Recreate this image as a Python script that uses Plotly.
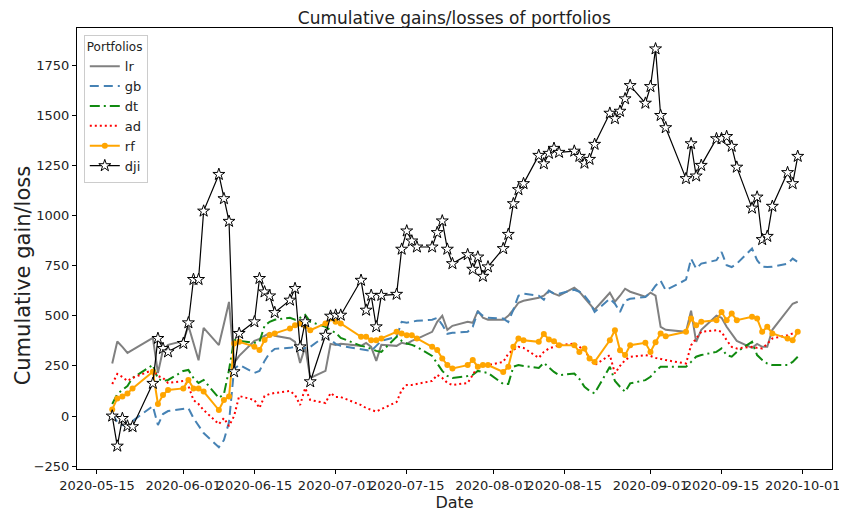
"""Cumulative gains/losses of portfolios, redrawn with plotly"""

import pandas as pd
import plotly.graph_objects as go

# trading days, 2020-05-18 .. 2020-09-30 (US market holidays removed)
dates = pd.bdate_range(
    "2020-05-18", "2020-09-30", freq="C",
    holidays=["2020-05-25", "2020-07-03", "2020-09-07"],
)

# values, month by month (May, Jun, Jul, Aug, Sep)
lr = [262, 372, 345, 315, 330, 390, 215, 330, 355,
      375, 450, 370, 278, 440, 354, 460, 569, 265, 300, 375, 385, 400, 415, 400, 387, 370, 265, 345, 190, 225, 360,
      355, 360, 350, 365, 345, 275, 355, 350, 365, 360, 375, 385, 420, 470, 500, 430, 450, 470, 465, 525, 490, 480,
      480, 500, 530, 565, 575, 590, 600, 625, 610, 600, 640, 620, 590, 560, 530, 615, 570, 600, 635, 620, 595,
      615, 600, 445, 430, 420, 525, 370, 430, 500, 490, 445, 410, 375, 340, 360, 345, 345, 430, 525, 560, 570]
gb = [10, -30, -45, -50, -25, 50, -45, 10, 25,
      35, 40, -10, -50, -85, -155, -120, -30, 235, 255, 215, 225, 275, 315, 335, 340, 345, 330, 340, 345, 400, 380,
      360, 350, 335, 330, 325, 350, 375, 395, 470, 465, 470, 475, 480, 490, 455, 410, 415, 420, 445, 520, 500, 490,
      486, 469, 531, 600, 610, 600, 580, 625, 610, 610, 630, 620, 600, 568, 519, 585, 560, 519, 575, 585, 594,
      615, 650, 675, 627, 680, 785, 735, 760, 777, 818, 752, 743, 760, 835, 777, 745, 743, 745, 760, 785, 768]
dt = [60, 110, 130, 150, 190, 255, 185, 175, 180,
      225, 230, 190, 165, 180, 90, 110, 230, 380, 375, 365, 370, 450, 470, 480, 490, 480, 490, 505, 470, 445, 428,
      415, 390, 350, 345, 335, 325, 320, 395, 375, 362, 355, 345, 300, 265, 225, 200, 190, 200, 205, 225, 220, 215,
      160, 160, 246, 254, 250, 240, 265, 240, 220, 204, 212, 185, 146, 125, 113, 246, 175, 146, 121, 163, 179,
      196, 225, 246, 246, 246, 270, 296, 304, 320, 337, 304, 296, 320, 370, 304, 280, 262, 254, 254, 270, 296]
ad = [160, 210, 195, 175, 190, 230, 200, 190, 165,
      175, 150, 80, 60, 30, -40, -10, -50, 0, 100, 80, 40, 100, 110, 115, 125, 105, 55, 140, 80, 65, 115,
      95, 95, 55, 40, 30, 22, 35, 70, 130, 155, 155, 160, 175, 205, 190, 165, 155, 165, 205, 246, 250, 254,
      270, 311, 330, 345, 340, 290, 320, 337, 345, 353, 362, 345, 328, 290, 254, 304, 212, 250, 279, 295, 304,
      300, 290, 285, 279, 262, 353, 387, 420, 428, 420, 378, 345, 337, 345, 340, 337, 360, 387, 403, 411, 420]
rf = [33, 88, 97, 113, 138, 221, 60, 105, 130,
      138, 180, 138, 138, 122, 30, 80, 97, 362, 370, 346, 329, 379, 404, 412, 437, 453, 462, 450, 428, 462, 486,
      470, 462, 395, 395, 378, 378, 387, 420, 412, 403, 403, 387, 345, 329, 287, 254, 237, 254, 279, 246, 254, 254,
      220, 246, 345, 387, 378, 370, 409, 382, 373, 353, 353, 320, 337, 287, 270, 378, 428, 328, 304, 353, 365,
      320, 368, 412, 398, 420, 486, 453, 470, 478, 519, 478, 511, 478, 495, 486, 420, 445, 412, 387, 378, 420]
dji = [0, -150, -12, -50, -53, 163, 387, 337, 320,
       362, 465, 681, 681, 1022, 1205, 1084, 971, 221, 412, 470, 686, 619, 599, 516, 578, 636, 345, 470, 171, 403, 498,
       503, 503, 677, 528, 602, 445, 602, 607, 832, 923, 873, 843, 843, 915, 973, 832, 760, 805, 732, 793, 697, 744,
       835, 906, 1059, 1129, 1159, 1300, 1258, 1310, 1335, 1315, 1321, 1295, 1261, 1280, 1355, 1510, 1483, 1520, 1582, 1648, 1560,
       1643, 1831, 1499, 1438, 1184, 1358, 1197, 1250, 1383, 1383, 1394, 1345, 1241, 1037, 1092, 880, 896, 1046, 1214, 1159, 1295]

x_ticks = ["2020-05-15", "2020-06-01", "2020-06-15", "2020-07-01", "2020-07-15",
           "2020-08-01", "2020-08-15", "2020-09-01", "2020-09-15", "2020-10-01"]
y_ticks = [-250, 0, 250, 500, 750, 1000, 1250, 1500, 1750]

FONT = "DejaVu Sans"

fig = go.Figure()
fig.add_trace(go.Scatter(x=dates, y=lr, name="lr", mode="lines",
                         line=dict(color="#808080", width=2)))
fig.add_trace(go.Scatter(x=dates, y=gb, name="gb", mode="lines",
                         line=dict(color="#4682b4", width=2, dash="9px,5px")))
fig.add_trace(go.Scatter(x=dates, y=dt, name="dt", mode="lines",
                         line=dict(color="#108a10", width=2, dash="10px,4px,2px,4px")))
fig.add_trace(go.Scatter(x=dates, y=ad, name="ad", mode="lines",
                         line=dict(color="#ff0000", width=2, dash="2px,3px")))
fig.add_trace(go.Scatter(x=dates, y=rf, name="rf", mode="lines+markers",
                         line=dict(color="#ffa500", width=2),
                         marker=dict(color="#ffa500", size=6)))
fig.add_trace(go.Scatter(x=dates, y=dji, name="dji", mode="lines+markers",
                         line=dict(color="black", width=1.2),
                         marker=dict(symbol="star", size=9, color="white",
                                     line=dict(color="black", width=1))))

# the page body keeps its default 8px margin, so the figure is 8px smaller
# than the window and the plot box is placed to land where the original has it
fig.update_layout(
    width=839, height=510,
    margin=dict(l=69, r=15, t=20, b=49, autoexpand=False),
    paper_bgcolor="white", plot_bgcolor="white",
    font=dict(family=FONT, size=13, color="#222222"),
    title=dict(text="Cumulative gains/losses of portfolios", x=0.532, xanchor="center",
               y=0.992, yanchor="top", font=dict(size=17, color="#222222")),
    showlegend=True,
    legend=dict(
        title=dict(text="Portfolios", font=dict(size=12)),
        x=0.009, y=0.985, xanchor="left", yanchor="top",
        bgcolor="rgba(255,255,255,0.8)", bordercolor="#cccccc", borderwidth=1,
        font=dict(size=13), itemwidth=30,
    ),
    annotations=[dict(text="Cumulative gain/loss", xref="paper", yref="paper",
                      x=-0.071, y=0.44, textangle=-90, showarrow=False,
                      xanchor="center", yanchor="middle",
                      font=dict(size=21, color="#222222"))],
)

fig.update_xaxes(
    type="date", range=["2020-05-11 01:30", "2020-10-06 18:00"],
    tickvals=x_ticks, ticktext=x_ticks, tickangle=0, automargin=False,
    ticks="outside", ticklen=4, tickcolor="black", tickfont=dict(size=13),
    showline=True, linecolor="black", linewidth=1, mirror=True,
    showgrid=False, zeroline=False,
    title=dict(text="Date", font=dict(size=16), standoff=4),
)
fig.update_yaxes(
    range=[-264, 1935], tickvals=y_ticks, automargin=False,
    ticks="outside", ticklen=4, tickcolor="black", tickfont=dict(size=13),
    showline=True, linecolor="black", linewidth=1, mirror=True,
    showgrid=False, zeroline=False,
)

fig.write_html("out.html")
